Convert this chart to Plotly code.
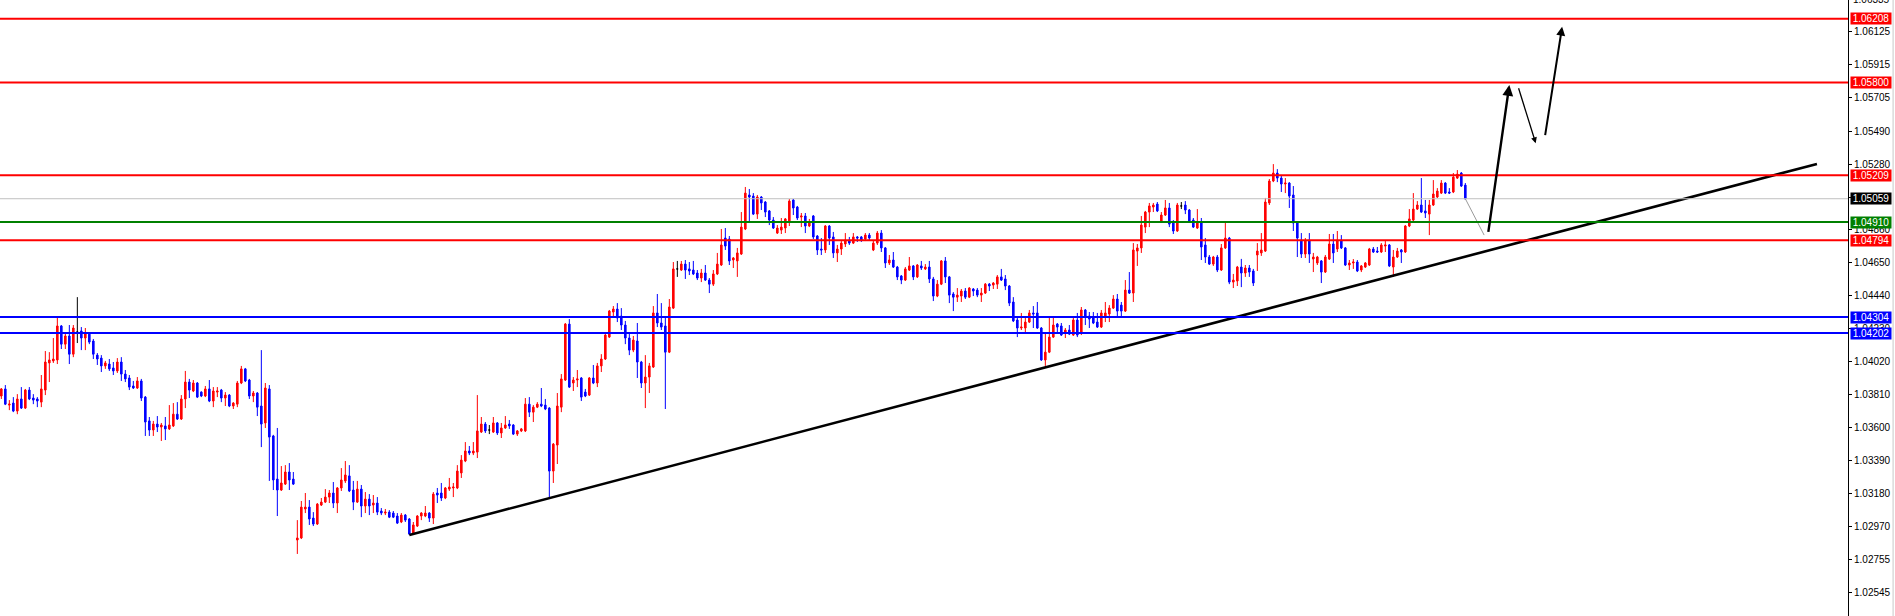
import plotly.graph_objects as go

# ---------------- candle data ----------------
open_ = [
1.03800,1.03845,1.03742,1.03755,1.03704,1.03781,1.03723,1.03838,1.03787,1.03781,
1.03761,1.03838,1.04011,1.04024,1.04030,1.04247,1.04131,1.04183,1.04067,1.04208,
1.04215,1.04170,1.04195,1.04151,1.04061,1.04042,1.03992,1.04004,1.03979,1.03960,
1.04017,1.03940,1.03915,1.03864,1.03851,1.03896,1.03793,1.03641,1.03583,1.03621,
1.03602,1.03609,1.03590,1.03609,1.03684,1.03653,1.03781,1.03889,1.03832,1.03883,
1.03825,1.03800,1.03845,1.03768,1.03825,1.03838,1.03787,1.03806,1.03736,1.03748,
1.03883,1.03973,1.03902,1.03800,1.03819,1.03736,1.03628,1.03845,1.03545,1.03270,
1.03200,1.03238,1.03315,1.03270,1.02881,1.02894,1.03079,1.03091,1.03021,1.02983,
1.03104,1.03123,1.03155,1.03181,1.03117,1.03213,1.03258,1.03290,1.03200,1.03123,
1.03206,1.03098,1.03142,1.03104,1.03117,1.03066,1.03053,1.03059,1.03053,1.03034,
1.02996,1.03040,1.03015,1.02926,1.02970,1.03034,1.03034,1.03053,1.03021,1.03181,
1.03181,1.03149,1.03206,1.03213,1.03213,1.03309,1.03385,1.03449,1.03436,1.03442,
1.03570,1.03621,1.03583,1.03570,1.03628,1.03564,1.03596,1.03621,1.03615,1.03557,
1.03577,1.03577,1.03748,1.03697,1.03729,1.03748,1.03742,1.03723,1.03321,1.03487,
1.03729,1.03902,1.04259,1.03883,1.03902,1.03915,1.03825,1.03806,1.03915,1.03883,
1.03992,1.04036,1.04176,1.04336,1.04355,1.04310,1.04253,1.04170,1.04093,1.04151,
1.04017,1.03883,1.03921,1.03985,1.04330,1.04266,1.04247,1.04080,1.04361,1.04611,
1.04604,1.04642,1.04611,1.04604,1.04585,1.04553,1.04585,1.04540,1.04514,1.04579,
1.04636,1.04808,1.04802,1.04668,1.04662,1.04706,1.04866,1.05083,1.05076,1.04961,
1.05070,1.05038,1.04981,1.04923,1.04840,1.04859,1.04872,1.04910,1.05051,1.05006,
1.04942,1.04949,1.04885,1.04949,1.04821,1.04738,1.04732,1.04885,1.04815,1.04713,
1.04738,1.04770,1.04795,1.04776,1.04815,1.04815,1.04802,1.04827,1.04732,1.04776,
1.04840,1.04745,1.04649,1.04668,1.04623,1.04566,1.04540,1.04604,1.04630,1.04560,
1.04630,1.04611,1.04623,1.04547,1.04438,1.04514,1.04662,1.04560,1.04451,1.04431,
1.04438,1.04470,1.04431,1.04483,1.04476,1.04444,1.04457,1.04514,1.04508,1.04514,
1.04560,1.04547,1.04502,1.04400,1.04285,1.04234,1.04234,1.04272,1.04330,1.04330,
1.04234,1.04030,1.04080,1.04176,1.04259,1.04247,1.04202,1.04221,1.04189,1.04285,
1.04202,1.04349,1.04310,1.04304,1.04272,1.04240,1.04310,1.04323,1.04361,1.04419,
1.04380,1.04342,1.04476,1.04457,1.04725,1.04745,1.04878,1.04974,1.05006,1.05025,
1.04917,1.04955,1.05000,1.04904,1.04853,1.05013,1.05019,1.04987,1.04923,1.04872,
1.04910,1.04764,1.04687,1.04642,1.04687,1.04604,1.04745,1.04808,1.04527,1.04534,
1.04623,1.04585,1.04617,1.04598,1.04700,1.04713,1.04725,1.05032,1.05172,1.05223,
1.05191,1.05153,1.05159,1.05083,1.04904,1.04795,1.04706,1.04795,1.04674,1.04649,
1.04662,1.04591,1.04674,1.04770,1.04738,1.04795,1.04745,1.04636,1.04649,1.04655,
1.04604,1.04623,1.04636,1.04738,1.04725,1.04719,1.04757,1.04764,1.04623,1.04687,
1.04732,1.04719,1.04885,1.04923,1.04993,1.05019,1.04981,1.04961,1.05019,1.05070,
1.05095,1.05159,1.05102,1.05102,1.05191,1.05223,1.05146]

high_ = [
1.03851,1.03870,1.03774,1.03793,1.03812,1.03857,1.03845,1.03857,1.03812,1.03793,
1.03934,1.04087,1.04080,1.04170,1.04298,1.04253,1.04208,1.04253,1.04253,1.04431,
1.04240,1.04234,1.04202,1.04164,1.04074,1.04061,1.04024,1.04036,1.04017,1.04042,
1.04048,1.03966,1.03934,1.03896,1.03921,1.03909,1.03800,1.03666,1.03641,1.03672,
1.03628,1.03666,1.03742,1.03755,1.03761,1.03806,1.03960,1.03909,1.03902,1.03889,
1.03830,1.03864,1.03902,1.03857,1.03857,1.03845,1.03825,1.03812,1.03761,1.03896,
1.03992,1.03979,1.03909,1.03832,1.03825,1.04093,1.03883,1.03870,1.03552,1.03596,
1.03353,1.03359,1.03372,1.03315,1.03008,1.03130,1.03181,1.03136,1.03059,1.03117,
1.03149,1.03206,1.03200,1.03251,1.03219,1.03340,1.03385,1.03359,1.03258,1.03258,
1.03232,1.03187,1.03174,1.03168,1.03155,1.03085,1.03079,1.03072,1.03066,1.03053,
1.03053,1.03047,1.03021,1.02996,1.03040,1.03059,1.03098,1.03059,1.03187,1.03213,
1.03245,1.03219,1.03277,1.03245,1.03359,1.03423,1.03506,1.03481,1.03506,1.03806,
1.03666,1.03634,1.03615,1.03666,1.03634,1.03628,1.03672,1.03647,1.03621,1.03583,
1.03596,1.03787,1.03793,1.03742,1.03761,1.03851,1.03781,1.03729,1.03500,1.03819,
1.03940,1.04266,1.04291,1.03921,1.03966,1.03921,1.03845,1.03921,1.03998,1.04011,
1.04067,1.04208,1.04349,1.04374,1.04393,1.04361,1.04279,1.04202,1.04183,1.04266,
1.04024,1.04061,1.04011,1.04374,1.04451,1.04393,1.04304,1.04419,1.04655,1.04662,
1.04662,1.04668,1.04655,1.04662,1.04604,1.04611,1.04636,1.04553,1.04604,1.04713,
1.04866,1.04872,1.04821,1.04687,1.04745,1.04974,1.05134,1.05121,1.05095,1.05083,
1.05076,1.05044,1.04987,1.04942,1.04891,1.04936,1.04936,1.05057,1.05057,1.05013,
1.04968,1.04968,1.04930,1.04955,1.04827,1.04808,1.04891,1.04891,1.04847,1.04764,
1.04789,1.04840,1.04815,1.04840,1.04821,1.04821,1.04840,1.04840,1.04795,1.04853,
1.04859,1.04751,1.04700,1.04719,1.04630,1.04572,1.04623,1.04687,1.04636,1.04642,
1.04662,1.04642,1.04662,1.04560,1.04540,1.04668,1.04687,1.04566,1.04463,1.04489,
1.04483,1.04489,1.04495,1.04489,1.04489,1.04489,1.04521,1.04521,1.04527,1.04572,
1.04611,1.04572,1.04508,1.04431,1.04298,1.04330,1.04304,1.04349,1.04374,1.04400,
1.04240,1.04202,1.04304,1.04304,1.04266,1.04266,1.04234,1.04253,1.04298,1.04330,
1.04368,1.04355,1.04336,1.04336,1.04330,1.04349,1.04400,1.04380,1.04444,1.04451,
1.04400,1.04540,1.04591,1.04776,1.04770,1.04949,1.04981,1.05032,1.05032,1.05038,
1.04974,1.05051,1.05032,1.04923,1.05032,1.05038,1.05044,1.04993,1.04936,1.04993,
1.04936,1.04808,1.04700,1.04694,1.04700,1.04770,1.04904,1.04815,1.04579,1.04630,
1.04675,1.04636,1.04636,1.04611,1.04776,1.04840,1.05064,1.05185,1.05280,1.05248,
1.05210,1.05191,1.05165,1.05140,1.04910,1.04840,1.04808,1.04840,1.04713,1.04694,
1.04668,1.04700,1.04834,1.04834,1.04853,1.04827,1.04751,1.04668,1.04674,1.04668,
1.04636,1.04655,1.04745,1.04751,1.04751,1.04776,1.04789,1.04770,1.04732,1.04745,
1.04738,1.04891,1.04993,1.05095,1.05044,1.05191,1.05051,1.05051,1.05178,1.05127,
1.05178,1.05165,1.05127,1.05223,1.05242,1.05229,1.05159]

low_ = [
1.03781,1.03742,1.03710,1.03697,1.03684,1.03717,1.03717,1.03774,1.03748,1.03729,
1.03729,1.03806,1.03889,1.04011,1.04004,1.04100,1.04100,1.04004,1.04048,1.04138,
1.04093,1.04093,1.04131,1.04036,1.03998,1.03953,1.03973,1.03960,1.03934,1.03947,
1.03896,1.03889,1.03838,1.03845,1.03845,1.03768,1.03545,1.03545,1.03545,1.03570,
1.03513,1.03519,1.03583,1.03602,1.03647,1.03647,1.03723,1.03787,1.03825,1.03787,
1.03793,1.03793,1.03761,1.03729,1.03793,1.03761,1.03736,1.03729,1.03717,1.03729,
1.03876,1.03889,1.03781,1.03761,1.03672,1.03474,1.03596,1.03258,1.03200,1.03034,
1.03194,1.03232,1.03200,1.03232,1.02792,1.02887,1.03053,1.02977,1.02970,1.02977,
1.03098,1.03117,1.03117,1.03085,1.03053,1.03194,1.03245,1.03187,1.03072,1.03117,
1.03027,1.03053,1.03040,1.03053,1.03040,1.03040,1.03040,1.03021,1.03021,1.02983,
1.02989,1.02996,1.02913,1.02919,1.02964,1.03008,1.03027,1.02996,1.02983,1.03117,
1.03130,1.03142,1.03194,1.03155,1.03206,1.03277,1.03378,1.03423,1.03423,1.03404,
1.03564,1.03564,1.03557,1.03564,1.03551,1.03532,1.03590,1.03590,1.03551,1.03545,
1.03570,1.03570,1.03666,1.03634,1.03723,1.03729,1.03710,1.03155,1.03245,1.03366,
1.03697,1.03896,1.03851,1.03832,1.03857,1.03768,1.03793,1.03800,1.03876,1.03857,
1.03953,1.04030,1.04170,1.04298,1.04272,1.04221,1.04131,1.04061,1.04080,1.03915,
1.03851,1.03723,1.03819,1.03979,1.04240,1.04221,1.03717,1.04074,1.04355,1.04560,
1.04598,1.04547,1.04572,1.04572,1.04540,1.04527,1.04534,1.04457,1.04502,1.04572,
1.04630,1.04732,1.04636,1.04617,1.04560,1.04700,1.04859,1.04904,1.04955,1.04930,
1.04987,1.04942,1.04891,1.04866,1.04834,1.04834,1.04840,1.04885,1.04955,1.04923,
1.04878,1.04840,1.04878,1.04802,1.04700,1.04700,1.04713,1.04764,1.04681,1.04655,
1.04700,1.04751,1.04764,1.04770,1.04783,1.04783,1.04789,1.04795,1.04725,1.04764,
1.04719,1.04617,1.04636,1.04617,1.04540,1.04514,1.04534,1.04598,1.04540,1.04553,
1.04604,1.04604,1.04521,1.04406,1.04431,1.04508,1.04521,1.04393,1.04342,1.04400,
1.04400,1.04419,1.04425,1.04438,1.04431,1.04400,1.04451,1.04470,1.04483,1.04483,
1.04534,1.04476,1.04374,1.04272,1.04176,1.04221,1.04202,1.04266,1.04234,1.04228,
1.04024,1.03992,1.04074,1.04170,1.04208,1.04183,1.04170,1.04189,1.04183,1.04176,
1.04189,1.04253,1.04234,1.04259,1.04234,1.04234,1.04272,1.04272,1.04355,1.04310,
1.04304,1.04336,1.04451,1.04400,1.04630,1.04713,1.04840,1.04878,1.04974,1.04974,
1.04904,1.04949,1.04878,1.04834,1.04847,1.04993,1.04961,1.04904,1.04872,1.04866,
1.04668,1.04649,1.04636,1.04630,1.04591,1.04598,1.04738,1.04514,1.04489,1.04502,
1.04495,1.04560,1.04560,1.04502,1.04598,1.04694,1.04719,1.05019,1.05165,1.05165,
1.05102,1.05095,1.05000,1.04853,1.04687,1.04681,1.04681,1.04649,1.04591,1.04636,
1.04521,1.04585,1.04668,1.04649,1.04719,1.04738,1.04630,1.04604,1.04611,1.04591,
1.04591,1.04617,1.04630,1.04713,1.04713,1.04713,1.04719,1.04623,1.04560,1.04681,
1.04649,1.04713,1.04878,1.04917,1.04987,1.04968,1.04936,1.04827,1.05013,1.05064,
1.05089,1.05089,1.05089,1.05095,1.05185,1.05134,1.05051]

close_ = [
1.03845,1.03748,1.03748,1.03704,1.03781,1.03723,1.03838,1.03781,1.03774,1.03768,
1.03845,1.04017,1.04030,1.04036,1.04247,1.04131,1.04183,1.04067,1.04234,1.04208,
1.04170,1.04202,1.04144,1.04067,1.04036,1.03992,1.04011,1.03973,1.03960,1.04017,
1.03940,1.03909,1.03857,1.03851,1.03896,1.03787,1.03634,1.03583,1.03621,1.03602,
1.03615,1.03590,1.03615,1.03684,1.03653,1.03781,1.03889,1.03838,1.03883,1.03793,
1.03800,1.03845,1.03768,1.03832,1.03832,1.03787,1.03806,1.03736,1.03755,1.03883,
1.03973,1.03896,1.03800,1.03819,1.03729,1.03621,1.03851,1.03538,1.03264,1.03200,
1.03245,1.03315,1.03264,1.03238,1.02894,1.03091,1.03091,1.03015,1.02983,1.03110,
1.03123,1.03155,1.03181,1.03117,1.03213,1.03264,1.03296,1.03194,1.03123,1.03206,
1.03098,1.03142,1.03098,1.03117,1.03059,1.03053,1.03059,1.03027,1.03027,1.02989,
1.03040,1.03008,1.02919,1.02977,1.03034,1.03053,1.03053,1.03021,1.03174,1.03168,
1.03149,1.03213,1.03219,1.03219,1.03321,1.03391,1.03449,1.03436,1.03449,1.03577,
1.03621,1.03577,1.03583,1.03628,1.03564,1.03596,1.03615,1.03609,1.03557,1.03577,
1.03590,1.03748,1.03697,1.03729,1.03748,1.03736,1.03717,1.03321,1.03493,1.03736,
1.03909,1.04259,1.03857,1.03902,1.03909,1.03793,1.03800,1.03915,1.03883,1.03992,
1.04036,1.04189,1.04342,1.04355,1.04298,1.04253,1.04170,1.04093,1.04157,1.04017,
1.03883,1.03921,1.03992,1.04330,1.04266,1.04240,1.04080,1.04368,1.04611,1.04611,
1.04642,1.04604,1.04598,1.04579,1.04553,1.04585,1.04540,1.04514,1.04579,1.04642,
1.04764,1.04757,1.04662,1.04681,1.04713,1.04878,1.05095,1.05070,1.04961,1.05070,
1.05032,1.04974,1.04923,1.04872,1.04872,1.04878,1.04930,1.05044,1.05000,1.04936,
1.04949,1.04885,1.04910,1.04815,1.04732,1.04732,1.04885,1.04808,1.04713,1.04738,
1.04776,1.04795,1.04776,1.04815,1.04808,1.04795,1.04827,1.04808,1.04776,1.04840,
1.04745,1.04649,1.04668,1.04623,1.04560,1.04540,1.04611,1.04630,1.04560,1.04636,
1.04617,1.04623,1.04547,1.04438,1.04514,1.04662,1.04560,1.04444,1.04431,1.04444,
1.04470,1.04431,1.04489,1.04470,1.04444,1.04457,1.04514,1.04502,1.04521,1.04560,
1.04540,1.04502,1.04393,1.04279,1.04234,1.04240,1.04272,1.04330,1.04323,1.04234,
1.04030,1.04080,1.04176,1.04253,1.04240,1.04189,1.04221,1.04195,1.04285,1.04189,
1.04349,1.04304,1.04291,1.04266,1.04240,1.04330,1.04330,1.04361,1.04419,1.04342,
1.04342,1.04476,1.04457,1.04732,1.04745,1.04891,1.04974,1.05013,1.05019,1.04981,
1.04955,1.05000,1.04897,1.04853,1.05019,1.05013,1.04987,1.04917,1.04878,1.04910,
1.04751,1.04687,1.04642,1.04687,1.04604,1.04745,1.04808,1.04527,1.04540,1.04623,
1.04585,1.04617,1.04591,1.04521,1.04725,1.04732,1.05038,1.05172,1.05223,1.05191,
1.05153,1.05159,1.05076,1.04904,1.04808,1.04706,1.04789,1.04706,1.04687,1.04687,
1.04591,1.04687,1.04770,1.04713,1.04795,1.04745,1.04636,1.04649,1.04655,1.04598,
1.04630,1.04649,1.04738,1.04719,1.04719,1.04764,1.04764,1.04630,1.04687,1.04725,
1.04719,1.04885,1.04930,1.04993,1.05019,1.04974,1.04968,1.05019,1.05089,1.05108,
1.05159,1.05095,1.05095,1.05197,1.05216,1.05140,1.05059]

# ---------------- horizontal levels ----------------
red_levels = [1.06208, 1.05800, 1.05209, 1.04794]
green_levels = [1.04910]
blue_levels = [1.04304, 1.04202]
current_price = 1.05059

# ---------------- price axis ticks ----------------
tick_vals = [1.06125, 1.05915, 1.05705, 1.05490, 1.05280, 1.05070, 1.04860,
             1.04650, 1.04440, 1.04230, 1.04020, 1.03810, 1.03600, 1.03390,
             1.03180, 1.02970, 1.02755, 1.02545]
top_cut_label = 1.06335

# ---------------- drawings ----------------
trend_x = [102.0, 453.9]
trend_y = [1.02913, 1.05281]
lead_x = [366.0, 370.7]
lead_y = [1.05059, 1.04827]
arrow_x0 = [371.7, 379.2, 385.9]
arrow_y0 = [1.04838, 1.05774, 1.05455]
arrow_x1 = [377.0, 383.6, 390.2]
arrow_y1 = [1.05785, 1.05413, 1.06157]
arrow_w = [2.4, 1.3, 2.0]

# ---------------- figure ----------------
n = len(open_)
normal = [i for i in range(n) if open_[i] != close_[i]]
doji = [i for i in range(n) if open_[i] == close_[i]]

RED = "#ff0000"
BLUE = "#0000ff"
GREEN = "#008000"

fig = go.Figure()
fig.add_trace(go.Candlestick(
    x=normal,
    open=[open_[i] for i in normal], high=[high_[i] for i in normal],
    low=[low_[i] for i in normal], close=[close_[i] for i in normal],
    increasing=dict(line=dict(color=RED, width=1), fillcolor=RED),
    decreasing=dict(line=dict(color=BLUE, width=1), fillcolor=BLUE),
    whiskerwidth=0, showlegend=False, hoverinfo="skip"))
fig.add_trace(go.Candlestick(
    x=doji,
    open=[open_[i] for i in doji], high=[high_[i] for i in doji],
    low=[low_[i] for i in doji], close=[close_[i] for i in doji],
    increasing=dict(line=dict(color="black", width=1), fillcolor="black"),
    decreasing=dict(line=dict(color="black", width=1), fillcolor="black"),
    whiskerwidth=0, showlegend=False, hoverinfo="skip"))

fig.add_trace(go.Scatter(x=trend_x, y=trend_y, mode="lines",
                         line=dict(color="black", width=2.6),
                         showlegend=False, hoverinfo="skip"))
fig.add_trace(go.Scatter(x=lead_x, y=lead_y, mode="lines",
                         line=dict(color="#9a9a9a", width=1),
                         showlegend=False, hoverinfo="skip"))

shapes = []
def hline(val, color, width):
    shapes.append(dict(type="line", xref="paper", x0=0, x1=1, yref="y",
                       y0=val, y1=val, line=dict(color=color, width=width),
                       layer="above"))

hline(current_price, "#c0c0c0", 1)
for v in red_levels:
    hline(v, RED, 2)
for v in green_levels:
    hline(v, GREEN, 2)
for v in blue_levels:
    hline(v, BLUE, 2)
shapes.append(dict(type="line", xref="paper", x0=1.0244, x1=1.0244, yref="paper",
                   y0=0, y1=1, line=dict(color="#c8c8c8", width=1)))

annotations = []
FONT = "Liberation Sans, Arial, sans-serif"
def label(val, bg):
    annotations.append(dict(x=1, xref="paper", xanchor="left", xshift=2,
                            y=val, yref="y", yanchor="middle",
                            text=f"{val:.5f}", showarrow=False,
                            font=dict(color="white", size=10, family=FONT),
                            bgcolor=bg, borderpad=0, width=40, height=11))
for v in red_levels:
    label(v, RED)
label(current_price, "black")
for v in green_levels:
    label(v, GREEN)
for v in blue_levels:
    label(v, BLUE)

# partially cut-off top tick label (sits just above the visible range)
annotations.append(dict(x=1, xref="paper", xanchor="left", xshift=3,
                        y=1, yref="paper", yanchor="middle", yshift=1,
                        text=f"{top_cut_label:.5f}", showarrow=False,
                        font=dict(color="black", size=10, family=FONT)))

for x0, y0, x1, y1, w in zip(arrow_x0, arrow_y0, arrow_x1, arrow_y1, arrow_w):
    annotations.append(dict(x=x1, y=y1, xref="x", yref="y",
                            ax=x0, ay=y0, axref="x", ayref="y",
                            text="", showarrow=True, arrowhead=2,
                            arrowsize=0.9, arrowwidth=w, arrowcolor="black"))

fig.update_layout(
    width=1895, height=616,
    margin=dict(l=0, r=47, t=0, b=0),
    paper_bgcolor="white", plot_bgcolor="white",
    boxgap=0.45,
    showlegend=False,
    shapes=shapes, annotations=annotations,
    xaxis=dict(range=[-0.333, 461.667], showgrid=False, zeroline=False,
               showticklabels=False, ticks="", showline=False,
               rangeslider=dict(visible=False), fixedrange=True),
    yaxis=dict(range=[1.02396, 1.063273], side="right", showgrid=False,
               zeroline=False, showline=True, linecolor="black", linewidth=1,
               ticks="outside", ticklen=3, tickcolor="black", tickwidth=1,
               tickvals=tick_vals, ticktext=[f"{v:.5f}" for v in tick_vals],
               tickfont=dict(color="black", size=10, family=FONT),
               fixedrange=True),
)

fig.write_html(
    "out.html",
    config={"displayModeBar": False, "staticPlot": True},
    post_script="document.body.style.margin='0px';document.body.style.overflow='hidden';",
)
